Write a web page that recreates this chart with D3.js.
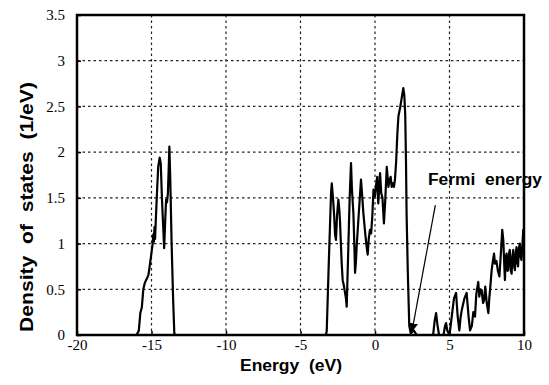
<!DOCTYPE html>
<html>
<head>
<meta charset="utf-8">
<title>Density of states</title>
<script src="https://d3js.org/d3.v7.min.js"></script>
<style>
  body { margin: 0; background: #fff; }
  svg { display: block; }
  .title { white-space: pre; }
</style>
</head>
<body>
<svg id="chart" width="549" height="385"></svg>
<script>
// energy (eV) and density of states (1/eV)
var energy = [-20, -16.0, -15.85, -15.75, -15.65, -15.55, -15.45, -15.3, -15.2, -15.1, -15.0, -14.92, -14.88, -14.84, -14.8, -14.76, -14.7, -14.62, -14.55, -14.45, -14.38, -14.3, -14.22, -14.15, -14.08, -14.02, -13.96, -13.9, -13.85, -13.8, -13.74, -13.65, -13.55, -13.47, -13.4,
  -3.3, -3.24, -3.1, -2.95, -2.9, -2.82, -2.75, -2.68, -2.62, -2.55, -2.46, -2.4, -2.35, -2.3, -2.24, -2.17, -2.1, -2.01, -1.95, -1.9, -1.8, -1.7, -1.61, -1.55, -1.45, -1.38, -1.34, -1.28, -1.23, -1.1, -0.94, -0.85, -0.78, -0.65, -0.55, -0.49, -0.42, -0.34, -0.26, -0.18, -0.1, 0.0, 0.08, 0.15, 0.22, 0.28, 0.34, 0.42, 0.5, 0.6, 0.68, 0.79, 0.9, 0.98, 1.05, 1.12, 1.19, 1.27, 1.34, 1.42, 1.5, 1.57, 1.7, 1.82, 1.9, 1.97, 2.03, 2.08, 2.12, 2.2, 2.3, 2.4, 2.6, 2.8,
  3.9, 4.0, 4.1, 4.2, 4.3, 4.6, 4.7, 4.77, 4.85, 5.0, 5.15, 5.3, 5.44, 5.55, 5.66, 5.75, 5.82, 6.0, 6.15, 6.28, 6.38, 6.5, 6.6, 6.71, 6.8, 6.93, 7.0, 7.08, 7.16, 7.25, 7.32, 7.4, 7.5, 7.61, 7.67, 7.72, 7.83, 7.92, 7.99, 8.05, 8.15, 8.25, 8.35, 8.45, 8.54, 8.61, 8.68, 8.72, 8.78, 8.83, 8.9, 8.94, 9.0, 9.05, 9.12, 9.17, 9.22, 9.28, 9.34, 9.39, 9.45, 9.5, 9.55, 9.6, 9.66, 9.72, 9.78, 9.83, 9.9, 9.95, 10];
var dos = [0, 0, 0.05, 0.24, 0.3, 0.5, 0.57, 0.62, 0.66, 0.78, 0.9, 1.0, 1.1, 1.02, 1.18, 1.05, 1.3, 1.6, 1.84, 1.94, 1.88, 1.5, 1.2, 0.95, 1.25, 1.48, 1.45, 1.55, 1.8, 2.06, 1.7, 1.0, 0.4, 0.02, 0,
  0, 0.04, 0.8, 1.55, 1.66, 1.5, 1.33, 1.1, 1.04, 1.3, 1.48, 1.38, 1.25, 1.04, 0.8, 0.6, 0.55, 0.46, 0.4, 0.31, 0.9, 1.5, 1.88, 1.6, 1.33, 0.95, 0.68, 0.8, 0.97, 1.3, 1.7, 1.5, 1.33, 1.1, 0.95, 0.88, 1.05, 1.15, 1.11, 1.3, 1.59, 1.52, 1.65, 1.73, 1.44, 1.6, 1.77, 1.55, 1.5, 1.22, 1.45, 1.84, 1.62, 1.7, 1.73, 1.62, 1.66, 1.62, 1.7, 1.9, 2.2, 2.39, 2.5, 2.62, 2.7, 2.62, 2.4, 1.9, 1.33, 0.7, 0.1, 0.02, 0.05, 0,
  0, 0.15, 0.24, 0.1, 0, 0, 0.1, 0.13, 0.05, 0, 0.2, 0.4, 0.46, 0.2, 0.05, 0.2, 0.27, 0.4, 0.46, 0.2, 0.05, 0.1, 0.25, 0.2, 0.45, 0.58, 0.42, 0.5, 0.49, 0.35, 0.38, 0.53, 0.35, 0.24, 0.4, 0.49, 0.71, 0.82, 0.89, 0.78, 0.81, 0.7, 0.64, 0.9, 1.15, 1.04, 0.75, 0.6, 0.85, 0.89, 0.7, 0.71, 0.9, 0.93, 0.7, 0.67, 0.85, 0.93, 0.75, 0.71, 0.9, 0.96, 0.8, 0.75, 0.95, 1.0, 0.85, 0.82, 1.0, 1.15, 1.1];

var xTicks = [-20, -15, -10, -5, 0, 5, 10];
var xTickLabels = ["-20", "-15", "-10", "-5", "0", "5", "10"];
var yTicks = [0, 0.5, 1, 1.5, 2, 2.5, 3, 3.5];
var yTickLabels = ["0", "0.5", "1", "1.5", "2", "2.5", "3", "3.5"];

// arrow for the Fermi energy note: [start, tip] in data units
var fermiArrow = [[4.05, 1.42], [2.48, 0.04]];

var svg = d3.select("#chart");
var margin = {top: 15, right: 25, bottom: 50, left: 77};
var width = 549 - margin.left - margin.right;
var height = 385 - margin.top - margin.bottom;

var x = d3.scaleLinear().domain([-20, 10]).range([0, width]);
var y = d3.scaleLinear().domain([0, 3.5]).range([height, 0]);

var g = svg.append("g").attr("transform", "translate(" + margin.left + "," + margin.top + ")");

// dotted grid
g.append("g")
  .selectAll("line")
  .data(yTicks.slice(1, -1))
  .enter().append("line")
  .attr("x1", 0).attr("x2", width)
  .attr("y1", function(d) { return y(d); })
  .attr("y2", function(d) { return y(d); })
  .style("stroke", "#222")
  .style("stroke-width", 1.2)
  .style("stroke-dasharray", "2.5,3");

g.append("g")
  .selectAll("line")
  .data(xTicks.slice(1, -1))
  .enter().append("line")
  .attr("y1", 0).attr("y2", height)
  .attr("x1", function(d) { return x(d); })
  .attr("x2", function(d) { return x(d); })
  .style("stroke", "#222")
  .style("stroke-width", 1.2)
  .style("stroke-dasharray", "2.5,3");

// the curve
var line = d3.line()
  .x(function(d) { return x(d[0]); })
  .y(function(d) { return y(d[1]); });

g.append("path")
  .datum(energy.map(function(e, i) { return [e, dos[i]]; }))
  .attr("d", line)
  .style("fill", "none")
  .style("stroke", "#000")
  .style("stroke-width", 2.2)
  .style("stroke-linejoin", "round");

// axes (inward ticks, serif labels)
var xAxis = g.append("g")
  .attr("transform", "translate(0," + height + ")")
  .call(d3.axisBottom(x).tickValues(xTicks).tickSize(-4).tickPadding(4).tickFormat(function(d, i) { return xTickLabels[i]; }));
var yAxis = g.append("g")
  .call(d3.axisLeft(y).tickValues(yTicks).tickSize(-4).tickPadding(12).tickFormat(function(d, i) { return yTickLabels[i]; }));

[xAxis, yAxis].forEach(function(a) {
  a.attr("font-family", "'Liberation Serif', 'Times New Roman', serif").attr("font-size", 15);
  a.select(".domain").remove();
  a.selectAll(".tick line").style("stroke", "#000").style("stroke-width", 1.5);
  a.selectAll("text").style("fill", "#000");
});

// frame
g.append("rect")
  .attr("x", 0).attr("y", 0)
  .attr("width", width).attr("height", height)
  .style("fill", "none")
  .style("stroke", "#000")
  .style("stroke-width", 2.5);

// Fermi energy note
svg.append("defs").append("marker")
  .attr("id", "head")
  .attr("viewBox", "0 0 10 10")
  .attr("refX", 9).attr("refY", 5)
  .attr("markerWidth", 9).attr("markerHeight", 9)
  .attr("markerUnits", "userSpaceOnUse")
  .attr("orient", "auto")
  .append("path")
  .attr("d", "M0,0L10,5L0,10Z")
  .style("fill", "#000");

g.append("line")
  .attr("x1", x(fermiArrow[0][0])).attr("y1", y(fermiArrow[0][1]))
  .attr("x2", x(fermiArrow[1][0])).attr("y2", y(fermiArrow[1][1]))
  .style("stroke", "#000")
  .style("stroke-width", 1.2)
  .attr("marker-end", "url(#head)");

svg.append("text")
  .attr("class", "title")
  .attr("x", 428).attr("y", 185)
  .attr("textLength", 114)
  .attr("lengthAdjust", "spacingAndGlyphs")
  .style("font-family", "'Liberation Sans', Arial, sans-serif")
  .style("font-weight", "bold")
  .style("font-size", "16px")
  .text("Fermi  energy");

// axis titles
svg.append("text")
  .attr("class", "title")
  .attr("x", 291).attr("y", 371)
  .attr("text-anchor", "middle")
  .attr("textLength", 102)
  .attr("lengthAdjust", "spacingAndGlyphs")
  .style("font-family", "'Liberation Sans', Arial, sans-serif")
  .style("font-weight", "bold")
  .style("font-size", "16px")
  .text("Energy  (eV)");

svg.append("text")
  .attr("class", "title")
  .attr("transform", "translate(33,207) rotate(-90)")
  .attr("text-anchor", "middle")
  .attr("textLength", 250)
  .attr("lengthAdjust", "spacingAndGlyphs")
  .style("font-family", "'Liberation Sans', Arial, sans-serif")
  .style("font-weight", "bold")
  .style("font-size", "18px")
  .text("Density  of  states  (1/eV)");
</script>
</body>
</html>
